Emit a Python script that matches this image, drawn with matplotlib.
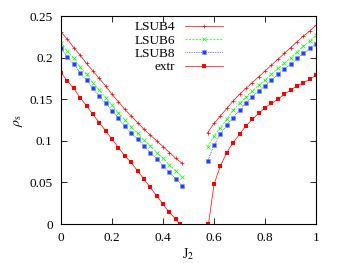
import matplotlib
matplotlib.use("Agg")
import matplotlib.pyplot as plt

# J2 grid for the two branches
j2_left = [0.0, 0.025, 0.05, 0.075, 0.1, 0.125, 0.15, 0.175, 0.2, 0.225,
           0.25, 0.275, 0.3, 0.325, 0.35, 0.375, 0.4, 0.425, 0.45, 0.475]
j2_right = [0.575, 0.6, 0.625, 0.65, 0.675, 0.7, 0.725, 0.75, 0.775, 0.8,
            0.825, 0.85, 0.875, 0.9, 0.925, 0.95, 0.975, 1.0]
j2_extr_left = [0.0, 0.025, 0.05, 0.075, 0.1, 0.125, 0.15, 0.175, 0.2, 0.225,
                0.25, 0.275, 0.3, 0.325, 0.35, 0.375, 0.4, 0.425, 0.45, 0.465]
j2_extr_right = [0.578, 0.6, 0.625, 0.65, 0.675, 0.7, 0.725, 0.75, 0.775, 0.8,
                 0.825, 0.85, 0.875, 0.9, 0.925, 0.95, 0.975, 1.0]

lsub4_left = [0.231, 0.222, 0.212, 0.203, 0.193, 0.184, 0.175, 0.166, 0.156, 0.147,
              0.138, 0.130, 0.122, 0.114, 0.107, 0.100, 0.093, 0.086, 0.079, 0.073]
lsub6_left = [0.218, 0.208, 0.199, 0.189, 0.180, 0.170, 0.161, 0.152, 0.143, 0.134,
              0.125, 0.117, 0.109, 0.101, 0.094, 0.086, 0.079, 0.071, 0.064, 0.057]
lsub8_left = [0.211, 0.201, 0.192, 0.182, 0.173, 0.163, 0.154, 0.145, 0.136, 0.127,
              0.118, 0.110, 0.102, 0.094, 0.086, 0.078, 0.070, 0.062, 0.054, 0.046]
extr_left = [0.182, 0.172, 0.163, 0.152, 0.142, 0.132, 0.122, 0.112, 0.102, 0.092,
             0.082, 0.074, 0.064, 0.054, 0.044, 0.034, 0.024, 0.014, 0.006, 0.0]

lsub4_right = [0.110, 0.121, 0.130, 0.139, 0.148, 0.156, 0.163, 0.170, 0.177, 0.184,
               0.191, 0.198, 0.205, 0.212, 0.219, 0.226, 0.232, 0.239]
lsub6_right = [0.093, 0.106, 0.116, 0.126, 0.137, 0.145, 0.153, 0.160, 0.167, 0.173,
               0.180, 0.187, 0.193, 0.200, 0.207, 0.214, 0.220, 0.227]
lsub8_right = [0.076, 0.095, 0.108, 0.119, 0.128, 0.137, 0.146, 0.153, 0.160, 0.166,
               0.173, 0.180, 0.186, 0.192, 0.199, 0.205, 0.211, 0.217]
extr_right = [0.0, 0.048, 0.070, 0.086, 0.098, 0.108, 0.118, 0.126, 0.133, 0.140,
              0.145, 0.150, 0.156, 0.161, 0.166, 0.170, 0.174, 0.179]

x_ticks = [0, 0.2, 0.4, 0.6, 0.8, 1]
x_labels = ["0", "0.2", "0.4", "0.6", "0.8", "1"]
y_ticks = [0, 0.05, 0.1, 0.15, 0.2, 0.25]
y_labels = ["0", "0.05", "0.1", "0.15", "0.2", "0.25"]

plt.rcParams["font.family"] = ["Liberation Serif", "DejaVu Serif"]
plt.rcParams["mathtext.fontset"] = "stix"

fig = plt.figure(figsize=(3.37, 2.63), dpi=100)
ax = fig.add_axes([0.181, 0.148, 0.757, 0.791])

red = "#ff0000"
green = "#00ff00"
blue = "#0000ff"

# LSUB4
ax.plot(j2_left, lsub4_left, color=red, lw=0.5, marker="+", ms=2.6, mew=0.5, label="LSUB4")
ax.plot(j2_right, lsub4_right, color=red, lw=0.5, marker="+", ms=2.6, mew=0.5)
# LSUB6
ax.plot(j2_left, lsub6_left, color=green, lw=0.5, ls=(0, (3, 2)), marker="x", ms=2.6, mew=0.5, label="LSUB6")
ax.plot(j2_right, lsub6_right, color=green, lw=0.5, ls=(0, (3, 2)), marker="x", ms=2.6, mew=0.5)
# LSUB8
ax.plot(j2_left, lsub8_left, color=blue, lw=0.5, ls=(0, (1, 1.5)), marker="s", ms=2.4, mew=0.4,
        mfc="#2040ff", mec="#8090ff", label="LSUB8")
ax.plot(j2_right, lsub8_right, color=blue, lw=0.5, ls=(0, (1, 1.5)), marker="s", ms=2.4, mew=0.4,
        mfc="#2040ff", mec="#8090ff")
# extrapolated
ax.plot(j2_extr_left, extr_left, color=red, lw=0.5, marker="s", ms=3.2, mew=0, label="extr")
ax.plot(j2_extr_right, extr_right, color=red, lw=0.5, marker="s", ms=3.2, mew=0)

ax.set_xlim(0, 1)
ax.set_ylim(0, 0.25)
ax.set_xticks(x_ticks)
ax.set_xticklabels(x_labels)
ax.set_yticks(y_ticks)
ax.set_yticklabels(y_labels)
ax.tick_params(direction="in", top=True, right=True, length=4, width=0.6,
               labelsize=9.5, pad=6, colors="black")
for s in ax.spines.values():
    s.set_linewidth(0.8)

ax.set_xlabel(r"J$_2$", fontsize=10, labelpad=1)
ax.set_ylabel(r"$\rho_{\rm s}$", fontsize=10, labelpad=3)

leg = ax.legend(loc="upper right", bbox_to_anchor=(0.635, 0.975), frameon=False,
                markerfirst=False, numpoints=1, fontsize=9.5, handlelength=2.9,
                handletextpad=0.7, labelspacing=0.08, borderaxespad=0, borderpad=0)
# right-align legend text like gnuplot
for col in leg._legend_handle_box.get_children():
    col.align = "right"

fig.savefig("out.png", dpi=100)
